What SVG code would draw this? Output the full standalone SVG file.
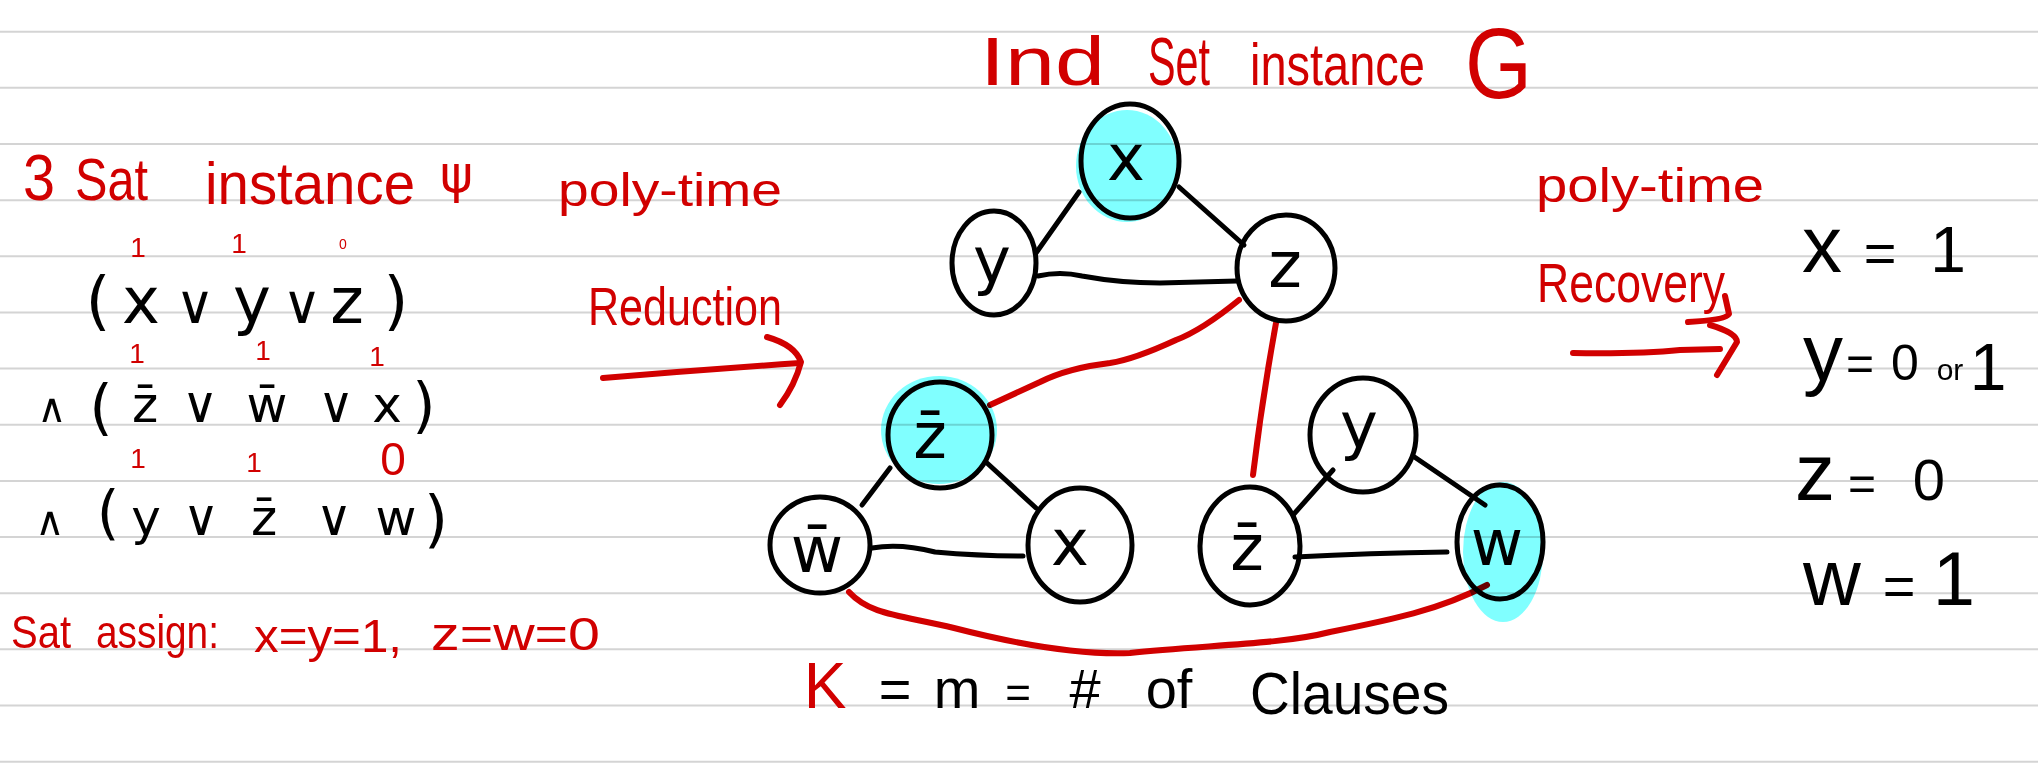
<svg xmlns="http://www.w3.org/2000/svg" width="2038" height="771" viewBox="0 0 2038 771">
<style>
.rule{stroke:#d4d4d4;stroke-width:2}
.t{font-family:"Liberation Sans","DejaVu Sans",sans-serif}
.m{font-family:"DejaVu Sans","Liberation Sans",sans-serif}
.red{fill:#d10000}
.blk{fill:#000}
.c{text-anchor:middle}
.node{fill:none;stroke:#000;stroke-width:5}
.hl{fill:#80ffff;mix-blend-mode:multiply}
.edge{fill:none;stroke:#000;stroke-width:5;stroke-linecap:round;stroke-linejoin:round}
.redge{fill:none;stroke:#d10000;stroke-width:6;stroke-linecap:round;stroke-linejoin:round}
</style>
<rect width="2038" height="771" fill="#fff"/>
<g id="ruled-lines">
<line class="rule" x1="0" y1="31.7" x2="2038" y2="31.7"/>
<line class="rule" x1="0" y1="87.85" x2="2038" y2="87.85"/>
<line class="rule" x1="0" y1="144" x2="2038" y2="144"/>
<line class="rule" x1="0" y1="200.15" x2="2038" y2="200.15"/>
<line class="rule" x1="0" y1="256.3" x2="2038" y2="256.3"/>
<line class="rule" x1="0" y1="312.45" x2="2038" y2="312.45"/>
<line class="rule" x1="0" y1="368.6" x2="2038" y2="368.6"/>
<line class="rule" x1="0" y1="424.75" x2="2038" y2="424.75"/>
<line class="rule" x1="0" y1="480.9" x2="2038" y2="480.9"/>
<line class="rule" x1="0" y1="537.05" x2="2038" y2="537.05"/>
<line class="rule" x1="0" y1="593.2" x2="2038" y2="593.2"/>
<line class="rule" x1="0" y1="649.35" x2="2038" y2="649.35"/>
<line class="rule" x1="0" y1="705.5" x2="2038" y2="705.5"/>
<line class="rule" x1="0" y1="761.65" x2="2038" y2="761.65"/>
</g>

<g id="sat-instance">
<text class="t red" font-size="64" x="23" y="200" textLength="32" lengthAdjust="spacingAndGlyphs">3</text>
<text class="t red" font-size="60" x="75" y="200" textLength="73" lengthAdjust="spacingAndGlyphs">Sat</text>
<text class="t red" font-size="60" x="205" y="204" textLength="210" lengthAdjust="spacingAndGlyphs">instance</text>
<text class="m red" font-size="52" x="440" y="192" textLength="33" lengthAdjust="spacingAndGlyphs">ψ</text>

<g class="t red c" font-size="28">
<text x="138" y="257">1</text><text x="239" y="253">1</text><text x="343" y="249" font-size="14">0</text>
<text x="137" y="363">1</text><text x="263" y="360">1</text><text x="377" y="366">1</text>
<text x="138" y="468">1</text><text x="254" y="472">1</text><text x="393" y="475" font-size="46">0</text>
</g>

<g class="m blk c">
<text font-size="64" x="98" y="323">(</text>
<text font-size="64" y="323"><tspan x="141">x</tspan><tspan x="195" font-size="54">∨</tspan><tspan x="252">y</tspan><tspan x="302" font-size="54">∨</tspan><tspan x="347">z</tspan></text>
<text font-size="64" x="396" y="323">)</text>

<text font-size="60" x="101" y="428">(</text>
<text font-size="50" y="422"><tspan x="52" font-size="40">∧</tspan><tspan x="145">z̄</tspan><tspan x="200">∨</tspan><tspan x="267">w̄</tspan><tspan x="336">∨</tspan><tspan x="387">x</tspan></text>
<text font-size="60" x="424" y="426">)</text>

<text font-size="58" x="108" y="533">(</text>
<text font-size="50" y="535"><tspan x="50" font-size="40">∧</tspan><tspan x="146">y</tspan><tspan x="201">∨</tspan><tspan x="264">z̄</tspan><tspan x="334">∨</tspan><tspan x="396">w</tspan></text>
<text font-size="62" x="436" y="540">)</text>
</g>

<text class="t red" font-size="46" x="11" y="648" textLength="60" lengthAdjust="spacingAndGlyphs">Sat</text>
<text class="t red" font-size="46" x="96" y="648" textLength="123" lengthAdjust="spacingAndGlyphs">assign:</text>
<text class="t red" font-size="46" x="254" y="652" textLength="148" lengthAdjust="spacingAndGlyphs">x=y=1,</text>
<text class="t red" font-size="46" x="431" y="650" textLength="169" lengthAdjust="spacingAndGlyphs">z=w=0</text>
</g>

<g id="reduction-label">
<text class="t red" font-size="46" x="558" y="206" textLength="224" lengthAdjust="spacingAndGlyphs">poly-time</text>
<text class="t red" font-size="54" x="588" y="325" textLength="194" lengthAdjust="spacingAndGlyphs">Reduction</text>
</g>

<g id="title-G">
<text class="t red" font-size="68" x="980" y="85" textLength="125" lengthAdjust="spacingAndGlyphs">Ind</text>
<text class="t red" font-size="68" x="1148" y="85" textLength="62" lengthAdjust="spacingAndGlyphs">Set</text>
<text class="t red" font-size="60" x="1250" y="85" textLength="175" lengthAdjust="spacingAndGlyphs">instance</text>
<text class="t red" font-size="100" x="1465" y="98" textLength="67" lengthAdjust="spacingAndGlyphs">G</text>
</g>

<g id="recovery-label">
<text class="t red" font-size="48" x="1536" y="202" textLength="228" lengthAdjust="spacingAndGlyphs">poly-time</text>
<text class="t red" font-size="56" x="1537" y="302" textLength="188" lengthAdjust="spacingAndGlyphs">Recovery</text>
</g>

<g id="recovered-assignment" class="t blk c">
<text y="272"><tspan x="1822" font-size="80">x</tspan><tspan x="1880" font-size="56">=</tspan><tspan x="1948" font-size="64">1</tspan></text>
<text y="380"><tspan x="1823" font-size="80">y</tspan><tspan x="1860" font-size="48">=</tspan><tspan x="1905" font-size="50">0</tspan><tspan x="1950" font-size="30">or</tspan><tspan x="1988" y="390" font-size="66">1</tspan></text>
<text y="500"><tspan x="1815" font-size="80">z</tspan><tspan x="1862" font-size="48">=</tspan><tspan x="1929" font-size="58">0</tspan></text>
<text y="605"><tspan x="1832" font-size="80">w</tspan><tspan x="1899" font-size="56">=</tspan><tspan x="1954" font-size="76">1</tspan></text>
</g>

<g id="k-label" class="t c">
<text class="red" x="825" y="708" font-size="64">K</text>
<text class="blk" y="708" font-size="56"><tspan x="895">=</tspan><tspan x="957">m</tspan><tspan x="1018" font-size="44">=</tspan><tspan x="1085">#</tspan><tspan x="1169">of</tspan></text>
<text class="blk" x="1250" y="714" font-size="60" style="text-anchor:start" textLength="199" lengthAdjust="spacingAndGlyphs">Clauses</text>
</g>

<g id="connectors">
<path class="edge" d="M1079 192 L1036 253"/>
<path class="edge" d="M1179 187 L1244 245"/>
<path class="edge" d="M1038 276 Q1060 271 1082 276 Q1120 283 1160 283 L1237 281"/>
<path class="edge" d="M890 468 L862 505"/>
<path class="edge" d="M987 463 L1036 508"/>
<path class="edge" d="M872 548 Q900 543 935 552 Q980 556 1023 556"/>
<path class="edge" d="M1293 515 L1333 470"/>
<path class="edge" d="M1413 456 L1485 505"/>
<path class="edge" d="M1295 557 Q1370 553 1447 552"/>
<path class="redge" d="M1239 300 C1212 322 1192 334 1176 340 C1150 352 1130 360 1110 363 C1085 366 1060 372 1040 382 L990 405"/>
<path class="redge" d="M1276 323 Q1262 400 1253 475"/>
<path class="redge" d="M849 592 C870 615 900 615 954 628 C1020 645 1080 655 1130 653 C1200 645 1280 645 1330 632 C1390 620 1440 610 1487 585"/>
<path class="redge" d="M603 378 Q700 370 800 363"/>
<path class="redge" d="M767 337 Q795 345 801 362 Q795 385 780 405"/>
<path class="redge" d="M1573 353 Q1640 354 1680 350 L1720 349"/>
<path class="redge" d="M1710 325 Q1737 333 1737 342 L1717 375"/>
<path class="redge" d="M1725 296 L1729 314 Q1726 320 1688 322"/>
</g>

<g id="node-x-top">
<ellipse class="node" cx="1130" cy="161" rx="49" ry="57"/>
<text class="m blk c" font-size="64" x="1126" y="180">x</text>
<ellipse class="hl" cx="1127" cy="166" rx="51" ry="56"/>
</g>
<g id="node-y-top">
<ellipse class="node" cx="994" cy="263" rx="42" ry="52"/>
<text class="m blk c" font-size="64" x="992" y="283">y</text>
</g>
<g id="node-z-top">
<ellipse class="node" cx="1286" cy="268" rx="49" ry="53"/>
<text class="m blk c" font-size="64" x="1285" y="287">z</text>
</g>
<g id="node-zbar-left">
<ellipse class="node" cx="940" cy="435" rx="52" ry="53"/>
<text class="m blk c" font-size="64" x="930" y="458">z̄</text>
<ellipse class="hl" cx="939" cy="430" rx="58" ry="54"/>
</g>
<g id="node-wbar">
<ellipse class="node" cx="820" cy="545" rx="50" ry="48"/>
<text class="m blk c" font-size="64" x="817" y="572">w̄</text>
</g>
<g id="node-x-left">
<ellipse class="node" cx="1080" cy="545" rx="52" ry="57"/>
<text class="m blk c" font-size="64" x="1070" y="565">x</text>
</g>
<g id="node-y-right">
<ellipse class="node" cx="1363" cy="435" rx="53" ry="57"/>
<text class="m blk c" font-size="64" x="1359" y="448">y</text>
</g>
<g id="node-zbar-right">
<ellipse class="node" cx="1250" cy="546" rx="50" ry="59"/>
<text class="m blk c" font-size="64" x="1247" y="570">z̄</text>
</g>
<g id="node-w-right">
<ellipse class="node" cx="1500" cy="542" rx="43" ry="57"/>
<text class="m blk c" font-size="64" x="1497" y="565">w</text>
<ellipse class="hl" cx="1503" cy="552" rx="40" ry="70"/>
</g>
</svg>
